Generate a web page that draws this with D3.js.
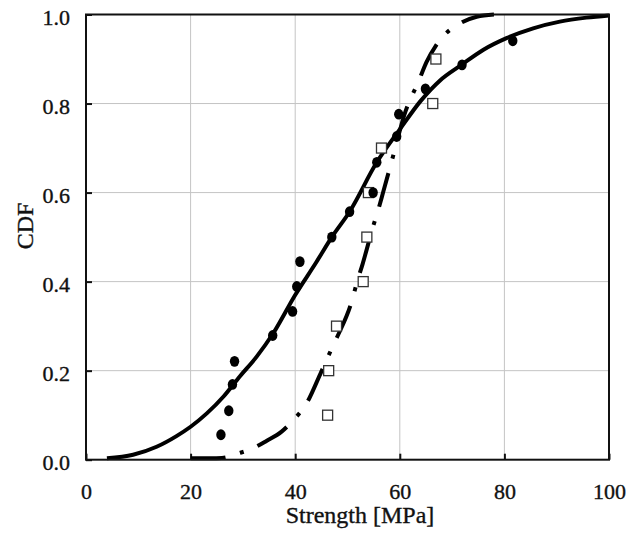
<!DOCTYPE html>
<html>
<head>
<meta charset="utf-8">
<script src="https://cdn.jsdelivr.net/npm/d3@7"></script>
<style>
  html, body { margin: 0; padding: 0; background: #ffffff; }
  svg { display: block; }
  text { font-family: "Liberation Serif", "Times New Roman", serif; fill: #111; }
</style>
</head>
<body>
<script>
// ---- data ----
const solidX = [4, 9, 13.5, 17.3, 20, 23.1, 26.3, 29.4, 32.6, 35.8, 40, 44, 47, 50.4, 55.6, 60, 64, 67.7, 71.8, 76, 80.4, 85.5, 90.6, 95.7, 100];
const solidY = [0.003, 0.011, 0.029, 0.053, 0.074, 0.104, 0.142, 0.187, 0.231, 0.284, 0.37, 0.443, 0.5, 0.557, 0.668, 0.742, 0.806, 0.852, 0.887, 0.921, 0.947, 0.969, 0.984, 0.993, 0.998];

const dashX = [20, 26, 29.1, 32, 34.5, 37.4, 39.8, 42, 45, 46.8, 48, 50.8, 51.8, 52.9, 54.9, 56, 56.8, 58.9, 60.8, 63.7, 65.1, 67, 71.8, 74.7, 78];
const dashY = [0.003, 0.004, 0.014, 0.026, 0.042, 0.063, 0.091, 0.123, 0.198, 0.245, 0.275, 0.355, 0.398, 0.44, 0.524, 0.566, 0.6, 0.69, 0.772, 0.853, 0.893, 0.932, 0.982, 0.995, 1.0];

const circX = [25.8, 27.3, 28.0, 28.4, 35.7, 39.5, 40.3, 40.9, 47.0, 50.4, 54.9, 55.6, 59.4, 59.8, 64.9, 71.9, 81.6];
const circY = [0.056, 0.110, 0.169, 0.221, 0.279, 0.333, 0.389, 0.445, 0.500, 0.557, 0.600, 0.668, 0.726, 0.776, 0.833, 0.887, 0.941];

const sqX = [46.2, 46.4, 47.9, 53.0, 53.7, 54.0, 56.5, 66.3, 66.9];
const sqY = [0.1, 0.2, 0.3, 0.4, 0.5, 0.6, 0.7, 0.8, 0.9];

const xTicks = [0, 20, 40, 60, 80, 100];
const yTicks = [0, 0.2, 0.4, 0.6, 0.8, 1.0];
const xTitle = "Strength [MPa]";
const yTitle = "CDF";

// ---- layout ----
const W = 640, H = 533;
const pLeft = 86, pRight = 609, pTop = 14.5, pBottom = 459.7;

const svg = d3.select("body").append("svg").attr("width", W).attr("height", H);
svg.append("rect").attr("width", W).attr("height", H).attr("fill", "#ffffff");

const x = d3.scaleLinear().domain([0, 100]).range([pLeft, pRight]);
const y = d3.scaleLinear().domain([0, 1]).range([pBottom, pTop]);

// grid
const grid = svg.append("g").attr("stroke", "#c4c4c4").attr("stroke-width", 1);
grid.selectAll("line.gx").data(xTicks.slice(1, -1)).enter().append("line")
  .attr("x1", d => x(d)).attr("x2", d => x(d)).attr("y1", pTop).attr("y2", pBottom);
grid.selectAll("line.gy").data(yTicks.slice(1, -1)).enter().append("line")
  .attr("y1", d => y(d)).attr("y2", d => y(d)).attr("x1", pLeft).attr("x2", pRight);

// axes
const xAxis = d3.axisBottom(x).tickValues(xTicks).tickFormat(d3.format("d"))
  .tickSizeInner(-6).tickSizeOuter(0).tickPadding(24);
const gx = svg.append("g").attr("transform", `translate(0,${pBottom})`).call(xAxis);
const yAxis = d3.axisLeft(y).tickValues(yTicks).tickFormat(d3.format(".1f"))
  .tickSizeInner(-6).tickSizeOuter(0).tickPadding(16);
const gy = svg.append("g").attr("transform", `translate(${pLeft},0)`).call(yAxis);
[gx, gy].forEach(g => {
  g.select(".domain").remove();
  g.selectAll(".tick line").attr("stroke", "#111").attr("stroke-width", 2);
  g.selectAll("text").style("font-size", "22px").attr("fill", "#111")
    .attr("stroke", "#111").attr("stroke-width", 0.35)
    .style("font-family", '"Liberation Serif", "Times New Roman", serif');
});
gy.selectAll("text").attr("dy", "0.45em");

// curves
const solidData = solidX.map((v, i) => [v, solidY[i]]);
const dashData = dashX.map((v, i) => [v, dashY[i]]);
const line = d3.line().x(d => x(d[0])).y(d => y(d[1])).curve(d3.curveMonotoneX);

svg.append("path").datum(dashData).attr("d", line)
  .attr("fill", "none").attr("stroke", "#000").attr("stroke-width", 4)
  .attr("stroke-dasharray", "35,15,4,15");
svg.append("path").datum(solidData).attr("d", line)
  .attr("fill", "none").attr("stroke", "#000").attr("stroke-width", 4);

// squares
const s = 10;
svg.append("g").selectAll("rect").data(sqX.map((v, i) => [v, sqY[i]])).enter().append("rect")
  .attr("x", d => x(d[0]) - s / 2).attr("y", d => y(d[1]) - s / 2)
  .attr("width", s).attr("height", s)
  .attr("fill", "#fff").attr("stroke", "#333").attr("stroke-width", 1.3);

// circles
svg.append("g").selectAll("ellipse").data(circX.map((v, i) => [v, circY[i]])).enter().append("ellipse")
  .attr("cx", d => x(d[0])).attr("cy", d => y(d[1]))
  .attr("rx", 4.7).attr("ry", 5.4).attr("fill", "#000");

// frame
svg.append("rect").attr("x", pLeft).attr("y", pTop).attr("width", pRight - pLeft).attr("height", pBottom - pTop)
  .attr("fill", "none").attr("stroke", "#111").attr("stroke-width", 2);

// titles
svg.append("text").attr("x", 360).attr("y", 523).attr("text-anchor", "middle")
  .attr("stroke", "#111").attr("stroke-width", 0.35)
  .style("font-size", "24px").text(xTitle);
svg.append("text").attr("transform", "translate(33,226) rotate(-90)").attr("text-anchor", "middle")
  .attr("stroke", "#111").attr("stroke-width", 0.35)
  .style("font-size", "24px").text(yTitle);
</script>
</body>
</html>
